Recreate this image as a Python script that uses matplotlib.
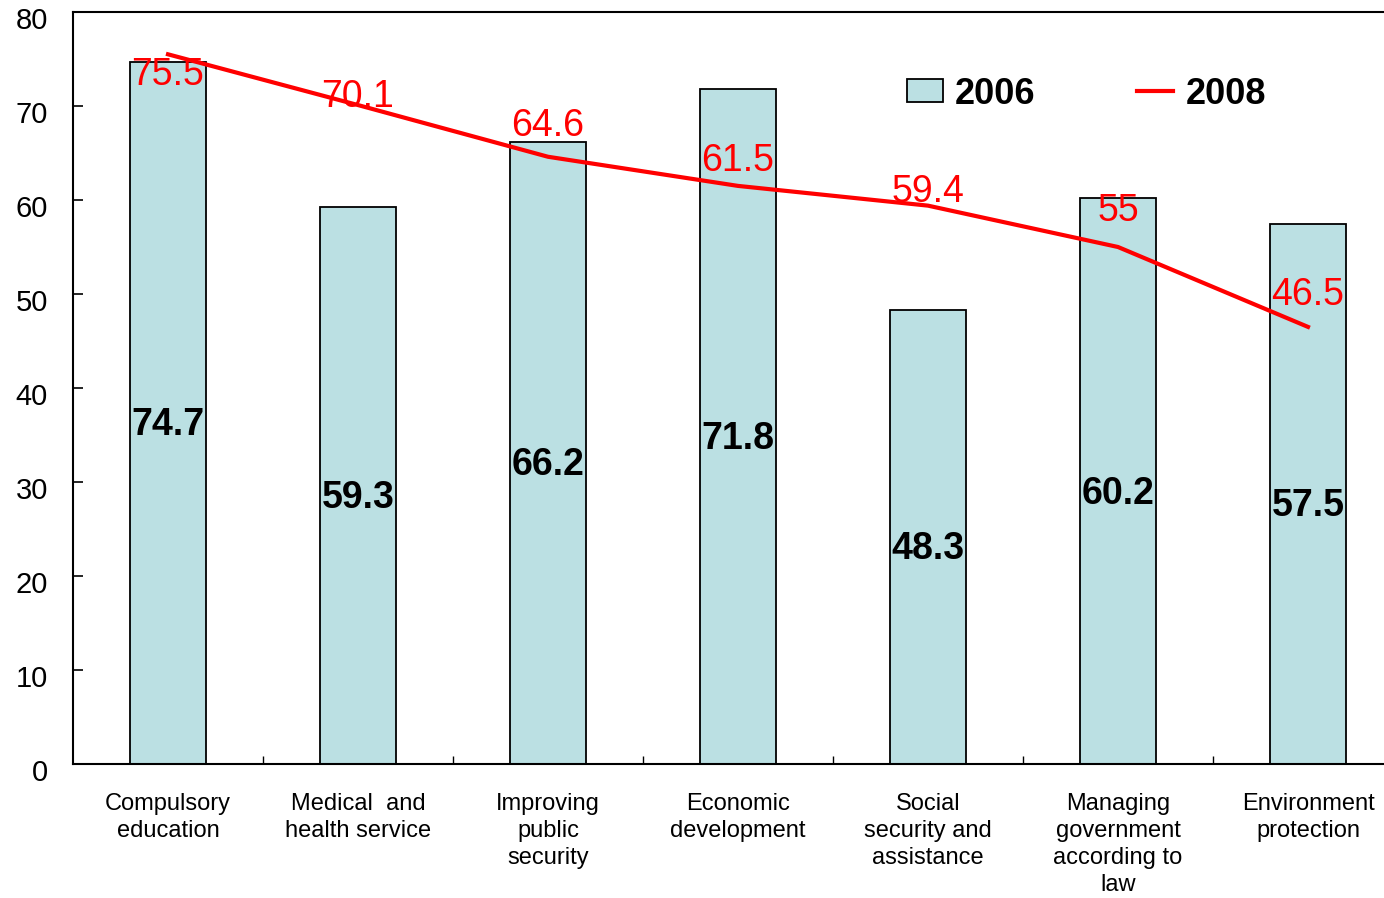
"""
Public service satisfaction: 2006 bars vs 2008 line.
"""

import matplotlib
matplotlib.use('Agg')
import matplotlib.pyplot as plt
import matplotlib.transforms as mtransforms
import numpy as np

categories = [
    'Compulsory\neducation',
    'Medical  and\nhealth service',
    'Improving\npublic\nsecurity',
    'Economic\ndevelopment',
    'Social\nsecurity and\nassistance',
    'Managing\ngovernment\naccording to\nlaw',
    'Environment\nprotection',
]
values_2006 = [74.7, 59.3, 66.2, 71.8, 48.3, 60.2, 57.5]
values_2008 = [75.5, 70.1, 64.6, 61.5, 59.4, 55.0, 46.5]

# vertical nudge (in points) for the red 2008 labels
label_dy = [-15, 6, 22, 18, 10, 26, 23]

plt.rcParams['font.family'] = ['Liberation Sans', 'DejaVu Sans']

fig = plt.figure(figsize=(13.84, 8.98), dpi=100)
W, H = 1384, 898
# axes runs past the right edge of the figure, like the original
ax = fig.add_axes([73 / W, 1 - 764 / H, 1330 / W, 752 / H])

x = np.arange(len(categories))
bars = ax.bar(x, values_2006, width=0.405, color='#BBE0E3',
              edgecolor='black', linewidth=1.3, label='2006', zorder=2)
line, = ax.plot(x, values_2008, color='#FF0000', linewidth=3, label='2008', zorder=3)

# 2006 values sit a bit below the middle of each bar
for xi, v in zip(x, values_2006):
    ax.annotate(f'{v:g}', (xi, v / 2), xytext=(0, -9), textcoords='offset points',
                ha='center', va='center', fontsize=27, fontweight='bold',
                color='black', zorder=4)

for xi, v, dy in zip(x, values_2008, label_dy):
    ax.annotate(f'{v:g}', (xi, v), xytext=(0, dy), textcoords='offset points',
                ha='center', va='center', fontsize=27, color='#FF0000', zorder=4)

ax.set_xlim(-0.5, len(categories) - 0.5)
ax.set_ylim(0, 80)
ax.set_yticks(np.arange(0, 81, 10))
ax.tick_params(axis='y', direction='in', length=7, width=1.2, labelsize=21, pad=18)
# tick numbers sit a little below their ticks in the original
shift = mtransforms.ScaledTranslation(0, -6 / 100, fig.dpi_scale_trans)
for lbl in ax.get_yticklabels():
    lbl.set_transform(lbl.get_transform() + shift)

ax.set_xticks(x)
ax.set_xticklabels(categories, fontsize=17, linespacing=1.3)
ax.tick_params(axis='x', length=0, pad=21)
ax.set_xticks(x[:-1] + 0.5, minor=True)
ax.tick_params(axis='x', which='minor', direction='in', length=6, width=1)

for side in ['left', 'bottom', 'top']:
    ax.spines[side].set_linewidth(1.5)

ax.legend([bars, line], ['2006', '2008'], loc='center left',
          bbox_to_anchor=(874 / W, 1 - 94 / H),
          bbox_transform=fig.transFigure, ncol=2, frameon=False,
          prop={'size': 26, 'weight': 'bold'}, handlelength=1.0,
          handleheight=0.6, handletextpad=0.35, columnspacing=2.8)

fig.savefig('out.png', dpi=100)
